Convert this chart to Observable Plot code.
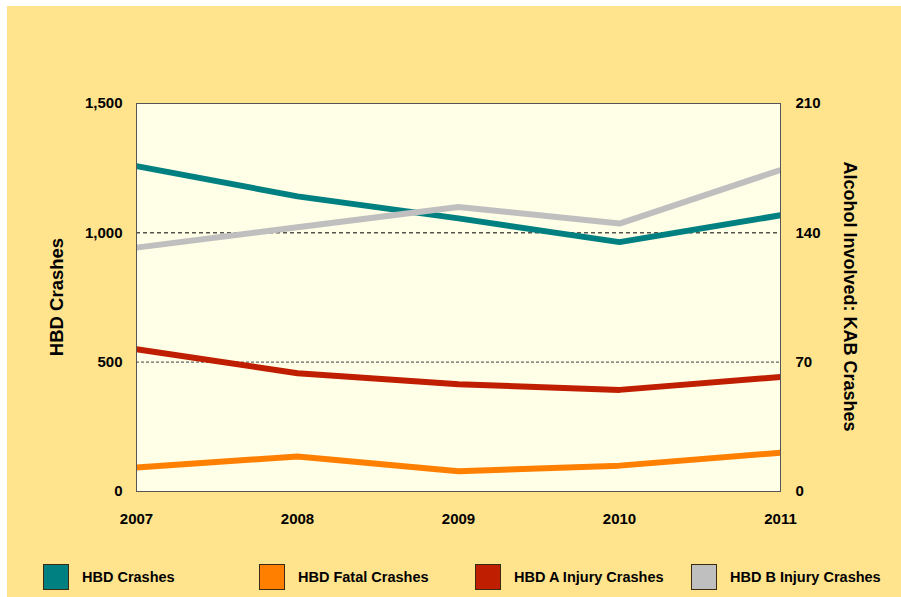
<!DOCTYPE html>
<html><head><meta charset="utf-8">
<script src="https://cdn.jsdelivr.net/npm/d3@7"></script>
<script src="https://cdn.jsdelivr.net/npm/@observablehq/plot@0.6"></script>
<style>
body{margin:0;background:#fff;font-family:"Liberation Sans",Arial,sans-serif;}
#wrap{position:absolute;left:7px;top:6px;width:894px;height:591px;background:#FFE38D;overflow:hidden;}
#chart{position:absolute;left:0;top:0;}
.ytitle{position:absolute;font-weight:bold;font-size:18.5px;white-space:nowrap;color:#000;}
.legend-item{position:absolute;top:558px;height:26px;display:flex;align-items:center;font-weight:bold;font-size:14.5px;white-space:nowrap;}
.sw{width:24px;height:24px;border:1px solid #3a2a10;margin-right:13px;box-sizing:content-box;}
</style></head>
<body>
<div id="wrap"><div id="chart"></div></div>
<script>
const years = [2007, 2008, 2009, 2010, 2011];
const hbdCrashes = [1258, 1141, 1056, 964, 1068];
const hbdFatal = [13, 19, 11, 14, 21];
const hbdAInjury = [77, 64, 58, 55, 62];
const hbdBInjury = [132, 143, 154, 145, 174];
const seriesNames = ["HBD Crashes", "HBD Fatal Crashes", "HBD A Injury Crashes", "HBD B Injury Crashes"];
const seriesColors = ["#008080", "#FF8000", "#BF1E00", "#BFBFBF"];
const leftTicks = [0, 500, 1000, 1500];
const rightTicks = [0, 70, 140, 210];
const leftTitle = "HBD Crashes";
const rightTitle = "Alcohol Involved: KAB Crashes";

const leftMax = 1500, rightMax = 210;
const k = leftMax / rightMax;
const seriesValues = [hbdCrashes, hbdFatal, hbdAInjury, hbdBInjury];
const onRight = [false, true, true, true];
const rows = [];
seriesNames.forEach((name, i) => {
  seriesValues[i].forEach((v, j) => {
    rows.push({series: name, year: years[j], value: v, plotted: onRight[i] ? v * k : v});
  });
});

const plot = Plot.plot({
  width: 894,
  height: 540,
  marginLeft: 129,
  marginRight: 121,
  marginTop: 97,
  marginBottom: 55,
  style: {fontFamily: '"Liberation Sans", Arial, sans-serif', fontSize: "15px", fontWeight: "bold", background: "transparent", color: "#000"},
  x: {type: "linear", domain: [years[0], years[years.length - 1]]},
  y: {domain: [0, leftMax]},
  color: {domain: seriesNames, range: seriesColors},
  marks: [
    Plot.frame({fill: "#FFFEE6"}),
    Plot.ruleY([leftTicks[2]], {stroke: "#000", strokeDasharray: "4,3", strokeWidth: 1}),
    Plot.ruleY([leftTicks[1]], {stroke: "#666", strokeDasharray: "3,2", strokeWidth: 1.3}),
    Plot.lineY(rows, {x: "year", y: "plotted", z: "series", stroke: "series", strokeWidth: 6, strokeLinecap: "butt", strokeLinejoin: "miter"}),
    Plot.frame({stroke: "#555", strokeWidth: 1}),
    Plot.axisX({ticks: years, tickFormat: d => String(d), tickSize: 0, tickPadding: 22, label: null}),
    Plot.axisY({anchor: "left", ticks: leftTicks, tickFormat: d3.format(","), tickSize: 0, tickPadding: 14, label: null}),
    Plot.axisY({anchor: "right", ticks: rightTicks.map(v => v * k), tickFormat: d => d3.format(",")(Math.round(d / k)), tickSize: 0, tickPadding: 15, label: null})
  ]
});
document.getElementById("chart").appendChild(plot);

const wrap = document.getElementById("wrap");
// axis titles
const lt = document.createElement("div");
lt.className = "ytitle"; lt.textContent = leftTitle;
wrap.appendChild(lt);
const rt = document.createElement("div");
rt.className = "ytitle"; rt.textContent = rightTitle;
rt.style.fontSize = "18px";
wrap.appendChild(rt);
function place(el, cx, cy, rot) {
  const w = el.offsetWidth, h = el.offsetHeight;
  el.style.left = (cx - w / 2) + "px";
  el.style.top = (cy - h / 2) + "px";
  el.style.transform = `rotate(${rot}deg)`;
}
place(lt, 50, 291, -90);
place(rt, 842, 290, 90);

// legend
seriesNames.forEach((name, i) => {
  const item = document.createElement("div");
  item.className = "legend-item";
  item.style.left = (36 + i * 216) + "px";
  const sw = document.createElement("div");
  sw.className = "sw";
  sw.style.background = seriesColors[i];
  const t = document.createElement("span");
  t.textContent = name;
  item.appendChild(sw); item.appendChild(t);
  wrap.appendChild(item);
});
</script>
</body></html>
